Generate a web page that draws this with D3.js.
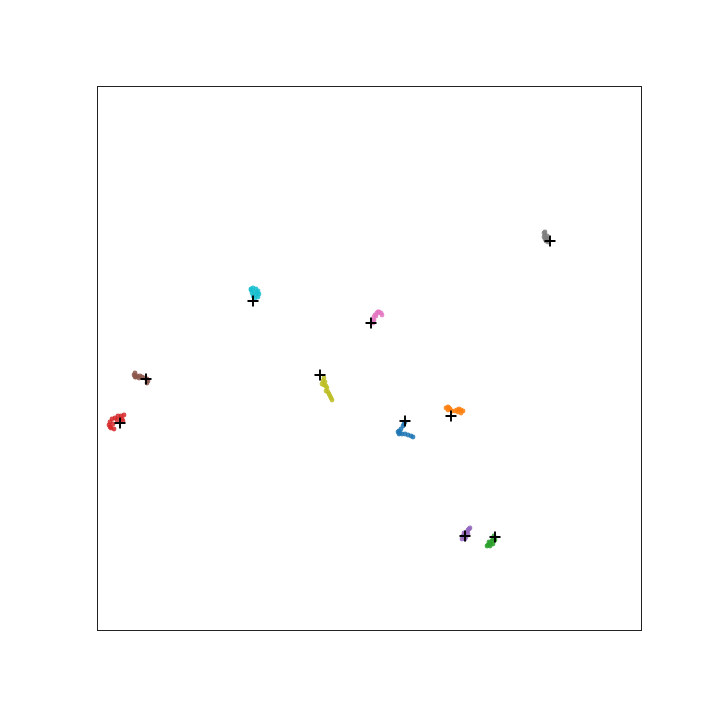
<!DOCTYPE html>
<html><head><meta charset="utf-8">
<script src="https://cdn.jsdelivr.net/npm/d3@7"></script>
<style>html,body{margin:0;padding:0;background:#fff;}</style>
</head><body>
<svg id="chart" width="720" height="720"></svg>
<script>
const clusterNames = ["blue","orange","green","red","purple","brown","pink","gray","olive","cyan"];
const clusterColors = ["#1f77b4","#ff7f0e","#2ca02c","#d62728","#9467bd","#8c564b","#e377c2","#7f7f7f","#bcbd22","#17becf"];
const centroidX = [3.6, 8.2, 12.6, -24.9, 9.6, -22.3, 0.2, 18.1, -4.9, -11.6];
const centroidY = [-6.3, -5.8, -17.9, -6.5, -17.8, -2.1, 3.5, 11.7, -1.7, 5.7];
const pointsX = [
  [3.6,3.5,3.4,3.2,3.0,2.9,3.0,3.3,3.6,3.9,4.2,4.4,3.1],
  [7.7,7.9,8.1,8.3,8.6,8.8,9.0,9.2,9.4,9.2,7.9,8.0,8.9],
  [12.5,12.4,12.3,12.1,11.9,11.8,12.1,12.4,12.6,12.2,12.0],
  [-24.8,-25.1,-25.4,-25.7,-25.9,-26.0,-25.8,-25.5,-25.6,-25.2,-24.7,-24.6,-24.5,-25.9],
  [10.1,9.9,9.8,9.6,9.4,9.3,9.6,9.9,9.7,10.0,9.5],
  [-23.4,-23.5,-23.3,-23.0,-22.7,-22.4,-22.2,-22.1,-22.2,-23.2,-22.9,-23.4],
  [0.4,0.5,0.5,0.6,0.8,1.0,1.2,1.3,0.7,0.4,0.9],
  [17.5,17.6,17.5,17.7,17.8,17.9,17.7,17.6,17.9,17.8,17.6],
  [-4.5,-4.6,-4.4,-4.5,-4.3,-4.2,-4.3,-4.1,-4.0,-3.9,-3.8,-3.7,-4.7],
  [-11.8,-11.6,-11.3,-11.1,-11.0,-11.1,-11.4,-11.6,-11.7,-11.5,-11.3,-11.2,-11.8]
];
const pointsY = [
  [-6.4,-6.6,-6.8,-7.1,-7.3,-7.4,-7.6,-7.6,-7.6,-7.7,-7.8,-7.9,-7.5],
  [-5.0,-4.9,-5.1,-5.3,-5.3,-5.2,-5.1,-5.2,-5.3,-5.5,-5.2,-5.0,-5.4],
  [-17.8,-18.1,-18.3,-18.5,-18.7,-18.8,-18.8,-18.6,-18.2,-18.6,-18.4],
  [-5.8,-5.8,-6.0,-6.1,-6.4,-6.7,-7.0,-7.1,-6.6,-6.2,-6.1,-6.3,-5.7,-6.9],
  [-17.0,-17.2,-17.4,-17.6,-17.8,-18.1,-18.1,-17.6,-17.9,-17.1,-17.5],
  [-1.5,-1.7,-1.9,-2.0,-1.9,-2.0,-2.1,-2.3,-2.5,-1.8,-1.8,-1.9],
  [3.5,3.8,4.1,4.3,4.5,4.6,4.5,4.3,4.2,3.7,4.6],
  [12.5,12.3,12.1,12.0,11.8,11.6,11.7,11.9,11.9,12.2,12.6],
  [-2.0,-2.3,-2.4,-2.7,-2.8,-3.0,-3.3,-3.4,-3.6,-3.8,-4.0,-4.2,-2.6],
  [6.8,7.0,6.9,6.7,6.4,6.1,6.0,6.2,6.5,6.6,6.3,6.5,6.9]
];

const svg = d3.select("#chart");
const mLeft = 97, mRight = 641, mTop = 86, mBottom = 630;
const x = d3.scaleLinear().domain([-27.2, 27.2]).range([mLeft, mRight]);
const y = d3.scaleLinear().domain([-27.2, 27.2]).range([mBottom, mTop]);

svg.append("rect").attr("width",720).attr("height",720).attr("fill","#fff");

const g = svg.append("g");
clusterNames.forEach((name, i) => {
  const pts = pointsX[i].map((vx, j) => [vx, pointsY[i][j]]);
  g.append("g").selectAll("circle").data(pts).join("circle")
    .attr("cx", d => x(d[0])).attr("cy", d => y(d[1]))
    .attr("r", 2.4).attr("fill", clusterColors[i]).attr("fill-opacity", 0.85);
});

const cent = centroidX.map((cx, i) => [cx, centroidY[i]]);
const plus = svg.append("g");
const s = 5.5;
plus.selectAll("path").data(cent).join("path")
  .attr("d", d => {
    const px = x(d[0]), py = y(d[1]);
    return `M${px - s},${py}H${px + s}M${px},${py - s}V${py + s}`;
  })
  .attr("stroke", "#000").attr("stroke-width", 1.9).attr("fill", "none");

svg.append("rect")
  .attr("x", mLeft + 0.5).attr("y", mTop + 0.5)
  .attr("width", mRight - mLeft).attr("height", mBottom - mTop)
  .attr("fill", "none").attr("stroke", "#222").attr("stroke-width", 1);
</script>
</body></html>
